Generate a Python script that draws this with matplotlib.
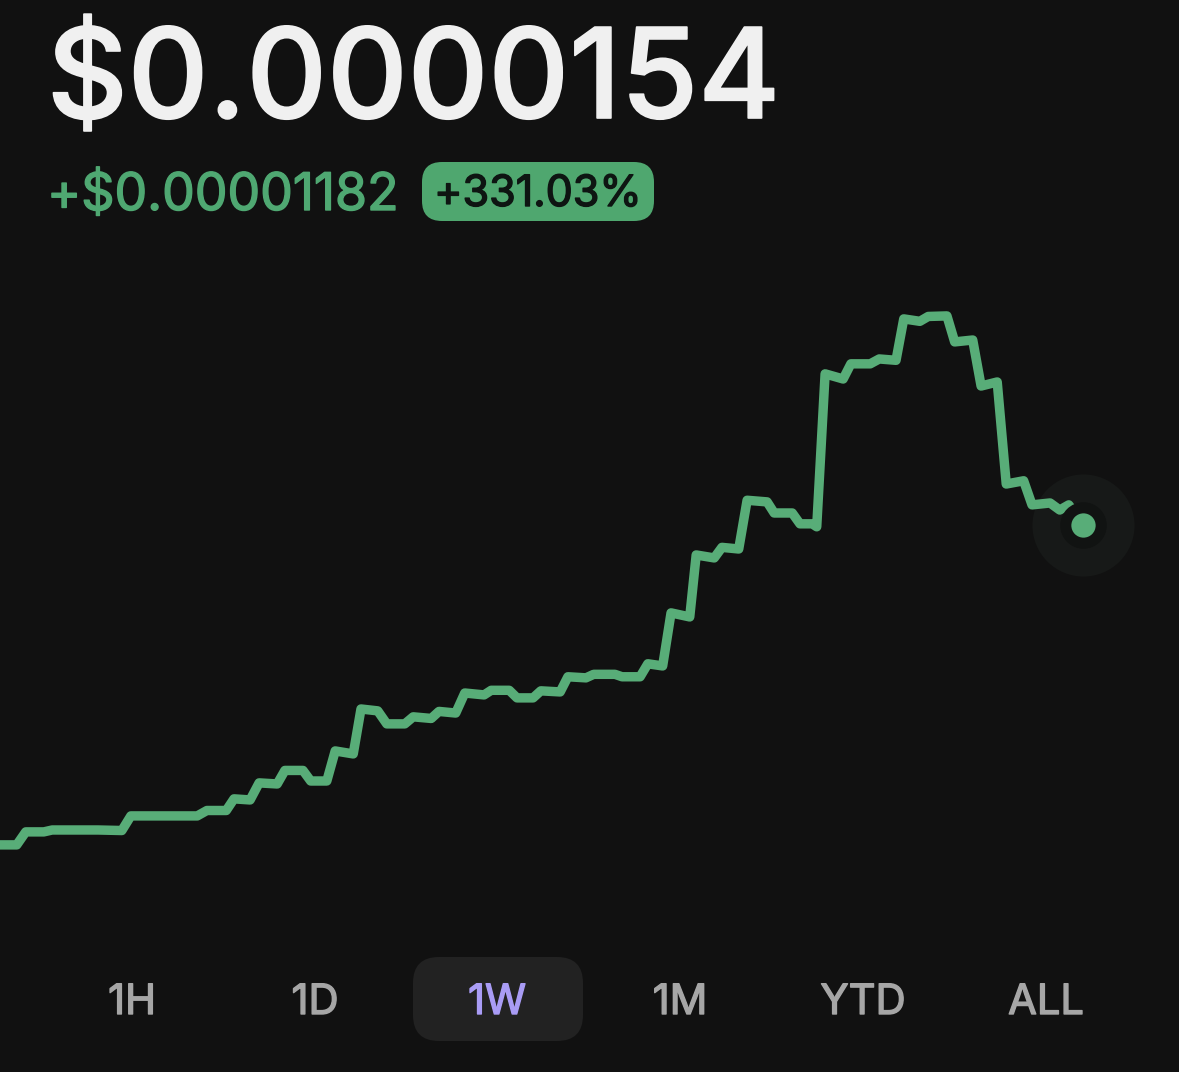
import matplotlib
matplotlib.use('Agg')
import matplotlib.pyplot as plt
import matplotlib.patheffects as pe
from matplotlib.patches import FancyBboxPatch

# price history over the week
hours = [0, 2.6, 4.0, 6.8, 8.1, 15.2, 18.9, 20.3, 30.6, 32.1, 35.1, 36.3, 38.8, 40.2, 43.0, 44.2,
         47.0, 48.2, 50.7, 52.0, 54.8, 56.0, 58.6, 60.0, 62.8, 64.1, 66.9, 68.1, 70.7, 72.1, 75.1,
         76.2, 79.0, 80.2, 82.7, 83.9, 86.9, 88.1, 90.9, 92.1, 95.4, 96.5, 99.3, 100.5, 102.8, 104.1,
         107.0, 108.0, 110.8, 112.0, 114.6, 115.9, 119.0, 120.1, 122.9, 124.1, 126.0, 126.7, 128.0,
         130.8, 132.0, 135.0, 136.4, 139.0, 140.2, 142.7, 144.0, 146.9, 148.1, 150.9, 152.2, 154.7,
         156.1, 158.8, 160.1, 162.9, 164.4, 165.8, 168]
# price in units of 1e-8 dollars
price = [358, 358, 406, 406, 413, 413, 411, 465, 465, 485, 485, 528, 524, 587, 583, 633,
         633, 594, 594, 705, 694, 860, 853, 805, 805, 831, 825, 851, 845, 919, 912,
         929, 929, 901, 901, 927, 923, 979, 975, 988, 988, 979, 979, 1027, 1019, 1215,
         1200, 1429, 1418, 1457, 1451, 1631, 1625, 1584, 1584, 1544, 1544, 1533, 2098,
         2079, 2135, 2135, 2153, 2148, 2301, 2292, 2310, 2312, 2216, 2223, 2053, 2068,
         1691, 1703, 1614, 1621, 1595, 1614, 1540]

ranges = ['1H', '1D', '1W', '1M', 'YTD', 'ALL']
range_x = [132, 315, 497, 680, 863, 1046]
selected = '1W'

price_text = '$0.0000154'
change_text = '+$0.00001182'
pct_text = '+331.03%'

BG = '#111111'
GREEN = '#58ad78'
TEXT_GREEN = '#4fa872'
W, H = 1179, 1072

plt.rcParams['font.family'] = ['Inter', 'DejaVu Sans']


def thick(color, width):
    # fatten the glyphs a little with a stroke
    return [pe.withStroke(linewidth=width, foreground=color)]


fig = plt.figure(figsize=(W / 100, H / 100), dpi=100, facecolor=BG)

# chart axes fill the whole figure
ax = fig.add_axes([0, 0, 1, 1], facecolor=BG)
ax.set_xlim(0, 182.9)
ax.set_ylim(-481, 3479)
ax.axis('off')
ax.plot(hours, price, color=GREEN, linewidth=6.8, solid_joinstyle='round', solid_capstyle='round', zorder=2)

# end marker with its halo
ax.plot(hours[-1], price[-1], 'o', ms=73.5, mew=0, color='#171918', zorder=1)
ax.plot(hours[-1], price[-1], 'o', ms=33.5, mew=0, color='#111312', zorder=3)
ax.plot(hours[-1], price[-1], 'o', ms=17.5, mew=0, color=GREEN, zorder=4)

# overlay in pixel coordinates for the text and pills
ui = fig.add_axes([0, 0, 1, 1], facecolor='none')
ui.set_xlim(0, W)
ui.set_ylim(H, 0)
ui.axis('off')

ui.text(47, 118, price_text, fontsize=90, color='#f0f0f0', ha='left', va='baseline',
        fontweight='medium', path_effects=thick('#f0f0f0', 1.2))
ui.text(47, 210, change_text, fontsize=37.3, color=TEXT_GREEN, ha='left', va='baseline',
        path_effects=thick(TEXT_GREEN, 1.0))

ui.add_patch(FancyBboxPatch((422, 162), 232, 59, boxstyle='round,pad=0,rounding_size=20',
                            lw=0, fc='#4fa76f'))
ui.text(538, 206, pct_text, fontsize=31, color='#0e1512', ha='center', va='baseline',
        path_effects=thick('#0e1512', 1.0))

ui.add_patch(FancyBboxPatch((431, 975), 134, 48, boxstyle='round,pad=18,rounding_size=26',
                            lw=0, fc='#222222'))

for label, x in zip(ranges, range_x):
    color = '#a99cf5' if label == selected else '#a6a6a6'
    ui.text(x, 1014, label, fontsize=30, color=color, ha='center', va='baseline',
            path_effects=thick(color, 1.0))

fig.savefig('out.png', dpi=100, facecolor=BG)
